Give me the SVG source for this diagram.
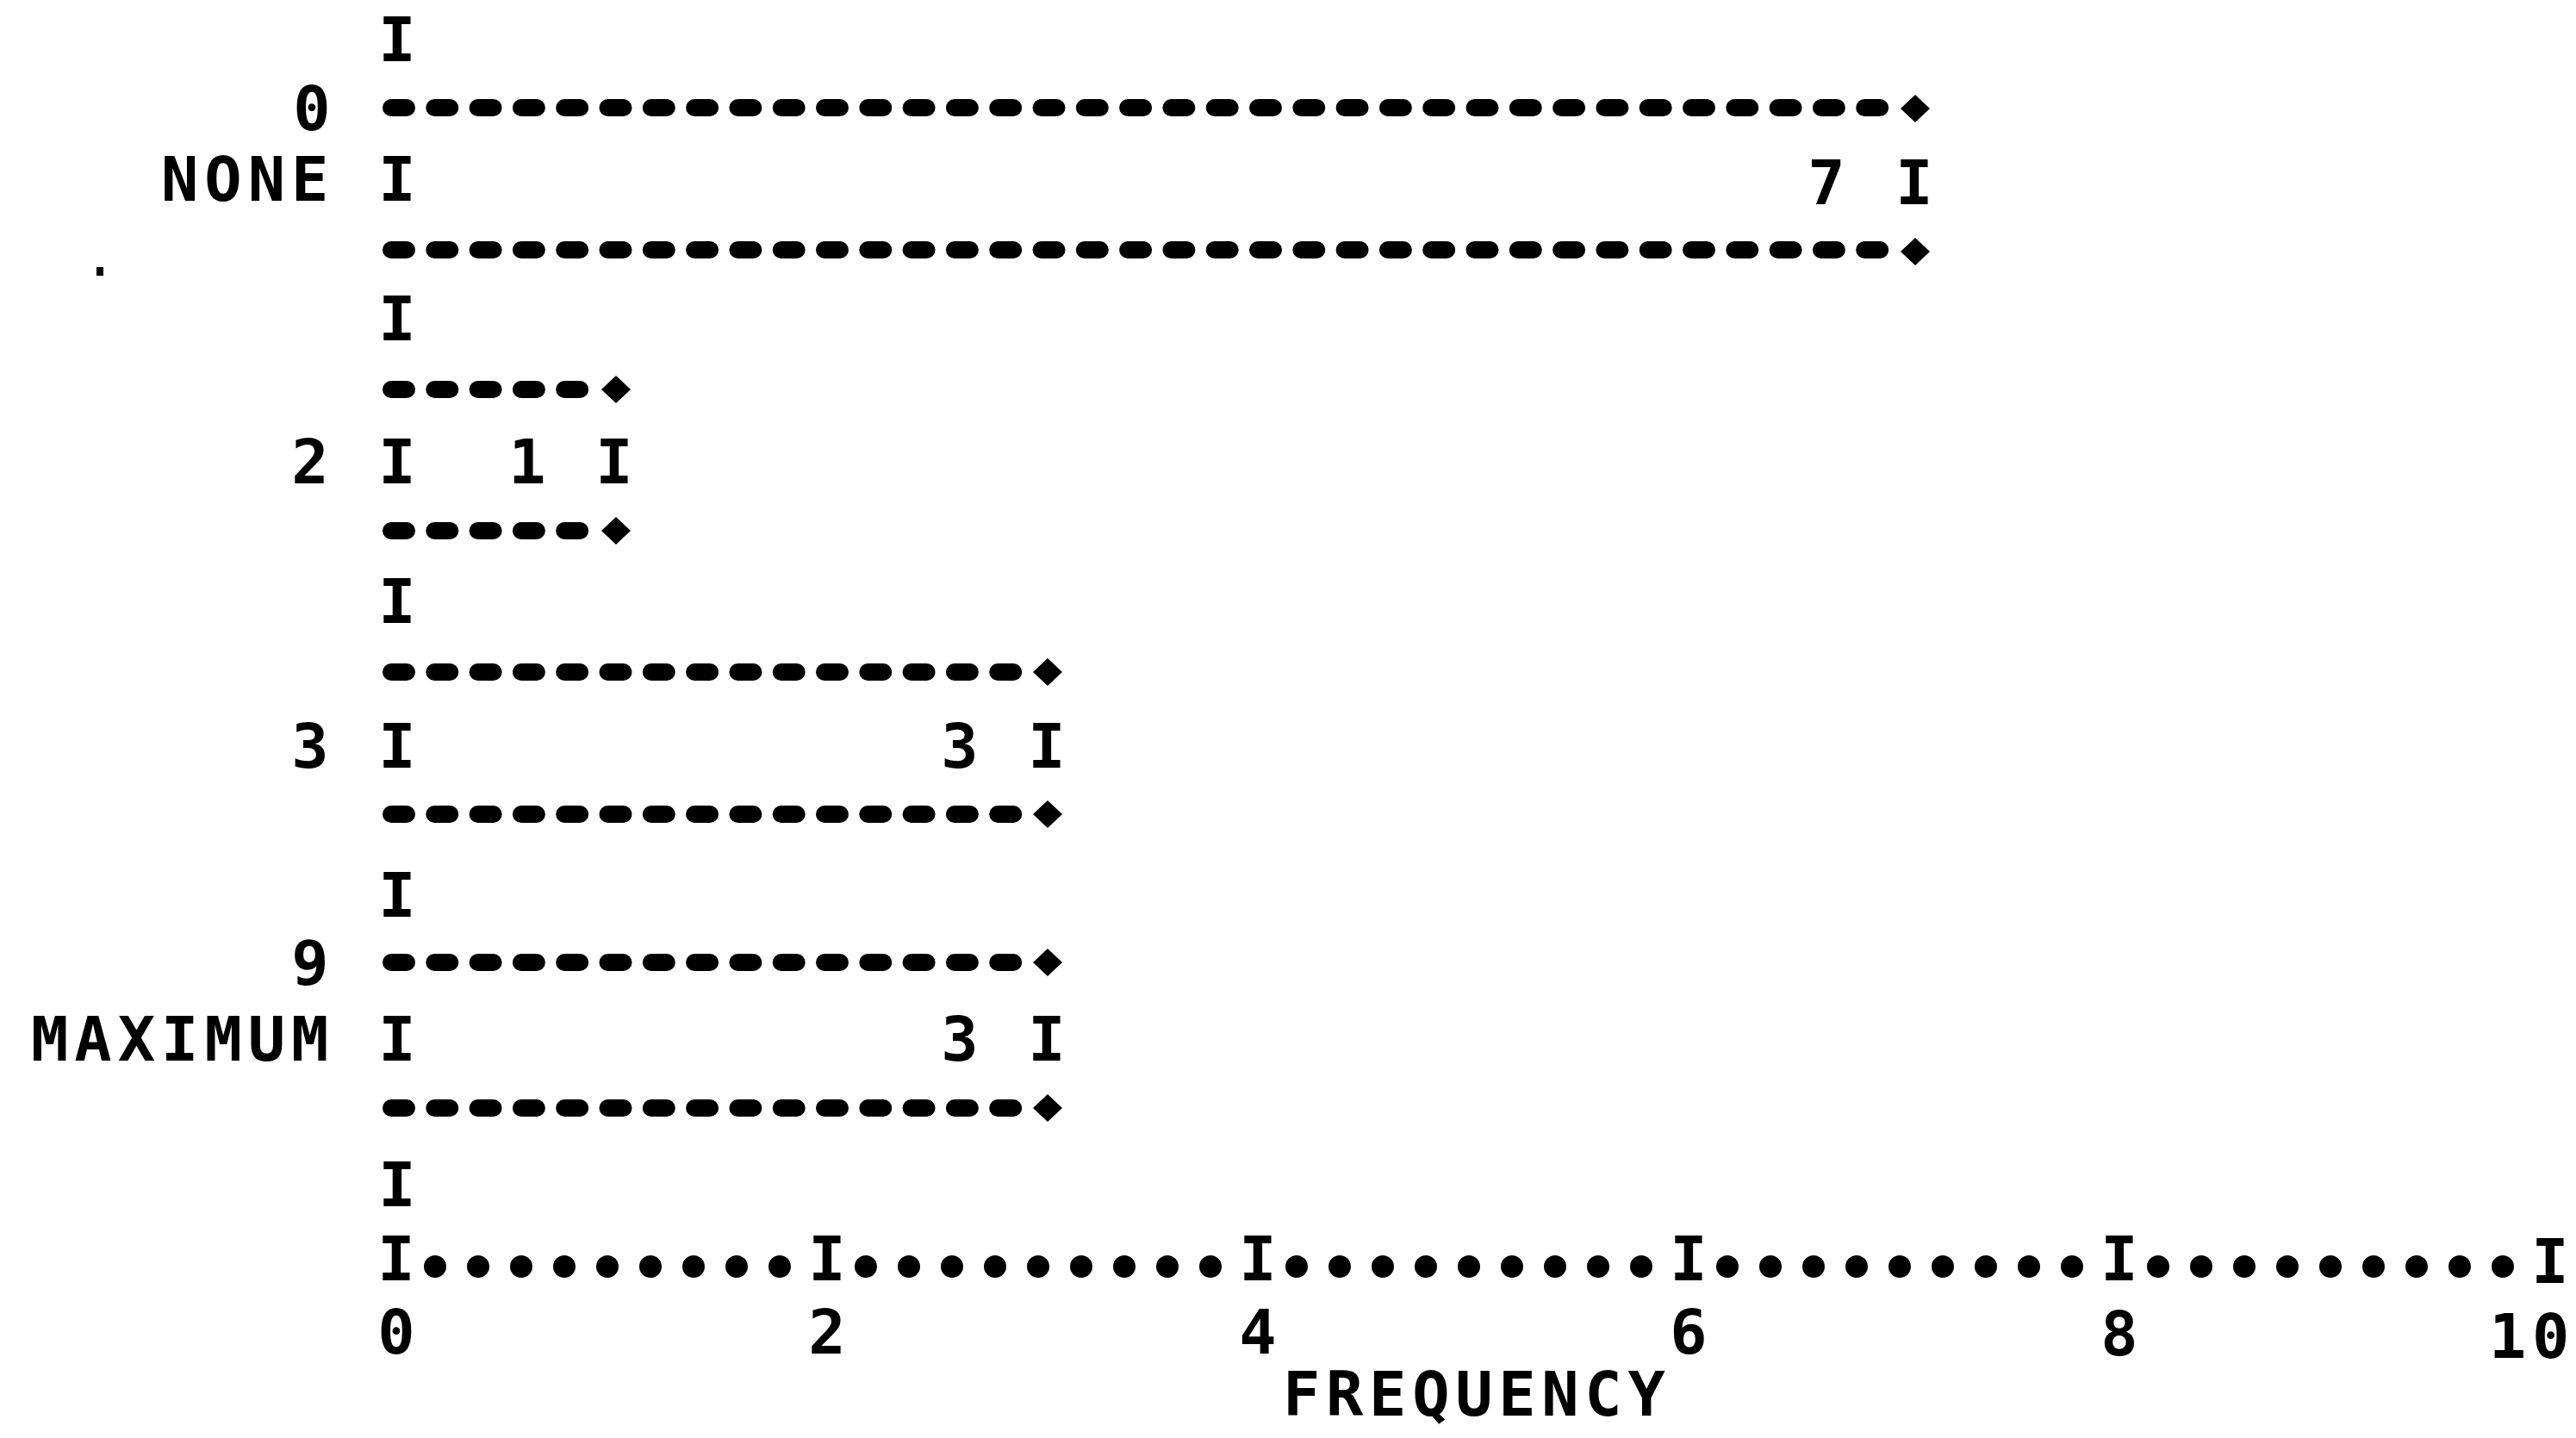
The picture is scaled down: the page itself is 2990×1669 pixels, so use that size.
<svg xmlns="http://www.w3.org/2000/svg" xmlns:xlink="http://www.w3.org/1999/xlink" width="2990" height="1669" viewBox="0 0 2990 1669">
<style>
  text { font-family: "DejaVu Sans Mono", "Liberation Mono", monospace; font-weight: bold; font-size: 72px; fill: #000; }
  .c { text-anchor: middle; }
  .s { text-anchor: start; letter-spacing: 7px; }
  .sa { text-anchor: start; letter-spacing: 6.7px; }
  .dash { stroke: #000; stroke-width: 20; stroke-linecap: round; stroke-dasharray: 18 32.3; fill: none; }
  .dots { stroke: #000; stroke-width: 26; stroke-linecap: round; stroke-dasharray: 0 50 0 50 0 50 0 50 0 50 0 50 0 50 0 50 0 100; fill: none; }
</style>
<defs>
  <path id="dia" d="M0,-16 L17,0 L0,16 L-17,0 Z" fill="#000"/>
</defs>
<rect width="2990" height="1669" fill="#fff"/>

<g id="spine">
  <text class="c" x="461" y="71">I</text>
  <text class="c" x="461" y="395">I</text>
  <text class="c" x="461" y="723">I</text>
  <text class="c" x="461" y="1064">I</text>
  <text class="c" x="461" y="1400">I</text>
</g>

<g id="bar-none">
  <text class="c" x="362" y="151">0</text>
  <line class="dash" x1="454" y1="125" x2="2182.2" y2="125"/>
  <use xlink:href="#dia" x="2223" y="126"/>
  <text class="s" x="187" y="233">NONE</text>
  <text class="c" x="461" y="233">I</text>
  <text class="c" x="2120" y="237">7</text>
  <text class="c" x="2222" y="237">I</text>
  <line class="dash" x1="454" y1="290" x2="2182.2" y2="290"/>
  <use xlink:href="#dia" x="2223" y="292"/>
</g>

<g id="bar-2">
  <line class="dash" x1="454" y1="452" x2="673.2" y2="452"/>
  <use xlink:href="#dia" x="715" y="452"/>
  <text class="c" x="360" y="561">2</text>
  <text class="c" x="461" y="561">I</text>
  <text class="c" x="612" y="561">1</text>
  <text class="c" x="713" y="561">I</text>
  <line class="dash" x1="454" y1="616" x2="673.2" y2="616"/>
  <use xlink:href="#dia" x="715" y="616"/>
</g>

<g id="bar-3">
  <line class="dash" x1="454" y1="780" x2="1176.2" y2="780"/>
  <use xlink:href="#dia" x="1216" y="780"/>
  <text class="c" x="360" y="891">3</text>
  <text class="c" x="461" y="891">I</text>
  <text class="c" x="1114" y="891">3</text>
  <text class="c" x="1215" y="891">I</text>
  <line class="dash" x1="454" y1="945" x2="1176.2" y2="945"/>
  <use xlink:href="#dia" x="1216" y="945"/>
</g>

<g id="bar-maximum">
  <text class="c" x="360" y="1143">9</text>
  <line class="dash" x1="454" y1="1117" x2="1176.2" y2="1117"/>
  <use xlink:href="#dia" x="1216" y="1117"/>
  <text class="s" x="36" y="1231">MAXIMUM</text>
  <text class="c" x="461" y="1231">I</text>
  <text class="c" x="1114" y="1231">3</text>
  <text class="c" x="1215" y="1231">I</text>
  <line class="dash" x1="454" y1="1286" x2="1176.2" y2="1286"/>
  <use xlink:href="#dia" x="1216" y="1286"/>
</g>

<g id="x-axis">
  <line class="dots" x1="505" y1="1470" x2="2956" y2="1470"/>
  <text class="c" x="460" y="1486">I</text>
  <text class="c" x="960" y="1486">I</text>
  <text class="c" x="1460" y="1486">I</text>
  <text class="c" x="1960" y="1486">I</text>
  <text class="c" x="2460" y="1486">I</text>
  <text class="c" x="2960" y="1489">I</text>
  <text class="c" x="460" y="1571">0</text>
  <text class="c" x="960" y="1571">2</text>
  <text class="c" x="1460" y="1571">4</text>
  <text class="c" x="1960" y="1571">6</text>
  <text class="c" x="2460" y="1573">8</text>
  <text class="sa" x="2889" y="1576">10</text>
  <text class="sa" x="1489" y="1643">FREQUENCY</text>
</g>

<rect x="112" y="310" width="8" height="10" fill="#000"/>
</svg>
